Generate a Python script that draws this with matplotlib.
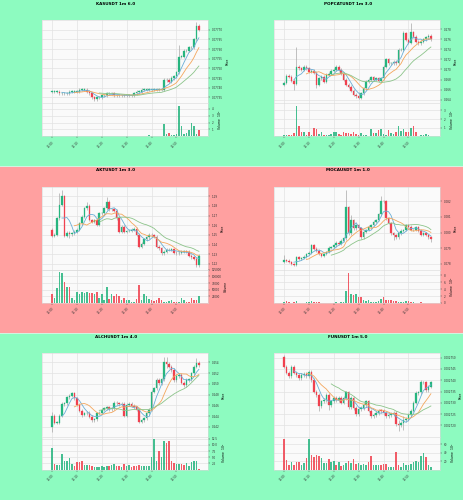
import matplotlib
matplotlib.use("Agg")
import matplotlib.pyplot as plt
import numpy as np
import pandas as pd
from matplotlib.ticker import FixedLocator, FuncFormatter

# ---------------- data ----------------
titles = ["KASUSDT 1m 6.0", "POPCATUSDT 1m 3.0", "AKTUSDT 1m 3.0",
          "MOCAUSDT 1m 1.0", "ALCHUSDT 1m 4.0", "FUNUSDT 1m 5.0"]
time_labels = ["12:00", "12:10", "12:20", "12:30", "12:40", "12:50"]

kas_open0 = 0.07738
kas_close = [0.07738, 0.07738, 0.07738, 0.07737, 0.07737,
             0.07737, 0.07737, 0.07738, 0.07738, 0.07738,
             0.07738, 0.07739, 0.07739, 0.07739, 0.07738,
             0.07737, 0.07735, 0.07734, 0.07735, 0.07735,
             0.07736, 0.07736, 0.07737, 0.07737, 0.07737,
             0.07736, 0.07736, 0.07736, 0.07736, 0.07736,
             0.07736, 0.07736, 0.07736, 0.07737, 0.07738,
             0.07738, 0.07739, 0.07739, 0.07739, 0.07739,
             0.07739, 0.07739, 0.07739, 0.07739, 0.07739,
             0.07744, 0.07744, 0.07743, 0.07745, 0.07746,
             0.07748, 0.07756, 0.07756, 0.07759, 0.07759,
             0.07761, 0.07761, 0.07765, 0.07772, 0.07770]
kas_vol = [0.05, 0.03, 0.04, 0.02, 0.05, 0.03, 0.04, 0.02, 0.03, 0.12,
           0.04, 0.05, 0.03, 0.05, 0.06, 0.08, 0.12, 0.10, 0.06, 0.05,
           0.04, 0.03, 0.05, 0.04, 0.10, 0.06, 0.03, 0.04, 0.03, 0.02,
           0.03, 0.02, 0.03, 0.02, 0.04, 0.05, 0.03, 0.04, 0.06, 0.15,
           0.04, 0.03, 0.05, 0.06, 0.05, 1.80, 0.30, 0.45, 0.25, 0.15,
           0.35, 4.40, 1.50, 0.30, 0.55, 0.90, 1.90, 1.50, 0.40, 0.85]
kas_wicks = {51: (0.07762, 0.07747), 58: (0.07774, 0.07764)}

pop_open0 = 0.26700
pop_close = [0.26742, 0.26874, 0.26861, 0.26782, 0.26716,
             0.27058, 0.27025, 0.26992, 0.27058, 0.27025,
             0.26959, 0.26979, 0.26939, 0.26696, 0.26828,
             0.26861, 0.26762, 0.26893, 0.26913, 0.26979,
             0.26992, 0.27058, 0.26992, 0.26913, 0.26795,
             0.26696, 0.26663, 0.26584, 0.26499, 0.26466,
             0.26446, 0.26532, 0.26630, 0.26762, 0.26795,
             0.26847, 0.26795, 0.26828, 0.26775, 0.26828,
             0.27058, 0.27203, 0.27124, 0.27124, 0.27157,
             0.27124, 0.27387, 0.27387, 0.27716, 0.27584,
             0.27532, 0.27736, 0.27650, 0.27551, 0.27518,
             0.27551, 0.27597, 0.27637, 0.27663, 0.27597]
pop_vol = [0.10, 0.20, 0.15, 0.20, 0.35, 3.50, 1.15, 0.50, 0.45, 0.20,
           0.45, 0.20, 0.95, 0.80, 0.30, 0.50, 0.20, 0.10, 0.15, 0.30,
           0.50, 0.45, 0.25, 0.10, 0.45, 0.35, 0.40, 0.25, 0.45, 0.30,
           0.15, 0.35, 0.10, 0.20, 0.05, 0.80, 0.35, 0.40, 0.70, 0.85,
           0.30, 0.20, 0.75, 0.35, 0.30, 0.55, 1.25, 0.60, 0.90, 0.50,
           0.45, 1.00, 1.20, 0.50, 0.05, 0.15, 0.20, 0.25, 0.20, 0.05]
pop_wicks = {5: (0.27453, 0.26700), 4: (0.26790, 0.26597), 30: (0.26560, 0.26413),
             51: (0.27913, 0.27520), 48: (0.27768, 0.27380), 13: (0.26960, 0.26630)}

akt_open0 = 1.1552
akt_close = [1.1490, 1.1500, 1.1672, 1.1810, 1.1903,
             1.1493, 1.1524, 1.1507, 1.1517, 1.1534,
             1.1552, 1.1621, 1.1690, 1.1776, 1.1803,
             1.1655, 1.1638, 1.1655, 1.1603, 1.1724,
             1.1724, 1.1776, 1.1845, 1.1766, 1.1766,
             1.1752, 1.1672, 1.1534, 1.1586, 1.1534,
             1.1541, 1.1545, 1.1552, 1.1562, 1.1500,
             1.1379, 1.1407, 1.1455, 1.1476, 1.1500,
             1.1497, 1.1483, 1.1379, 1.1362, 1.1310,
             1.1328, 1.1345, 1.1345, 1.1352, 1.1317,
             1.1310, 1.1317, 1.1324, 1.1331, 1.1324,
             1.1283, 1.1269, 1.1255, 1.1186, 1.1283]
akt_vol = [33000, 20000, 55000, 115000, 112000, 80000, 60000, 62000, 20000, 12000,
           40000, 35000, 40000, 38000, 40000, 38000, 38000, 35000, 40000, 18000,
           35000, 10000, 62000, 15000, 35000, 28000, 35000, 25000, 12000, 20000,
           10000, 10000, 5000, 5000, 15000, 66000, 12000, 35000, 28000, 15000,
           10000, 8000, 10000, 20000, 10000, 5000, 3000, 8000, 10000, 5000,
           3000, 3000, 20000, 10000, 3000, 3000, 18000, 12000, 10000, 25000]
akt_wicks = {4: (1.1966, 1.1800), 3: (1.1930, 1.1660), 22: (1.1897, 1.1760),
             14: (1.1845, 1.1770), 7: (1.1530, 1.1466), 58: (1.1270, 1.1170)}

moca_open0 = 0.07815
moca_close = [0.07826, 0.07821, 0.07813, 0.07800, 0.07794,
              0.07843, 0.07834, 0.07838, 0.07847, 0.07862,
              0.07872, 0.07919, 0.07898, 0.07885, 0.07864,
              0.07851, 0.07864, 0.07877, 0.07904, 0.07909,
              0.07919, 0.07936, 0.07928, 0.07949, 0.07964,
              0.08162, 0.07996, 0.08081, 0.08028, 0.08049,
              0.08028, 0.07970, 0.08006, 0.08017, 0.08038,
              0.08049, 0.08070, 0.08081, 0.08117, 0.08202,
              0.08200, 0.08091, 0.08060, 0.07996, 0.07985,
              0.07970, 0.07996, 0.08013, 0.08017, 0.08047,
              0.08038, 0.08017, 0.08017, 0.08034, 0.08013,
              0.07985, 0.07996, 0.07985, 0.07970, 0.07957]
moca_vol = [0.3, 0.5, 0.2, 0.1, 0.2, 0.6, 0.1, 0.1, 0.05, 0.4,
            0.4, 0.5, 0.3, 0.2, 0.3, 0.1, 0.1, 0.05, 0.1, 0.05,
            0.1, 0.2, 0.1, 0.3, 0.4, 3.6, 8.8, 2.7, 2.3, 2.6,
            1.6, 1.6, 0.9, 0.5, 0.8, 0.3, 0.4, 0.3, 0.5, 1.3,
            1.7, 1.0, 0.8, 0.9, 0.6, 0.5, 0.4, 0.3, 0.4, 0.5,
            0.6, 0.3, 0.2, 0.1, 0.1, 0.2, 0.1, 0.1, 0.05, 0.1]
moca_wicks = {25: (0.08272, 0.07960), 39: (0.08234, 0.08110), 0: (0.07860, 0.07810),
              27: (0.08110, 0.07990), 44: (0.07998, 0.07955), 59: (0.07975, 0.07940)}

alch_open0 = 0.24194
alch_close = [0.24404, 0.24280, 0.24280, 0.24404, 0.24627,
              0.24640, 0.24751, 0.24776, 0.24825, 0.24733,
              0.24609, 0.24503, 0.24423, 0.24454, 0.24466,
              0.24392, 0.24318, 0.24342, 0.24454, 0.24466,
              0.24516, 0.24547, 0.24565, 0.24528, 0.24547,
              0.24652, 0.24640, 0.24627, 0.24627, 0.24404,
              0.24609, 0.24627, 0.24590, 0.24565, 0.24516,
              0.24299, 0.24318, 0.24361, 0.24454, 0.24516,
              0.24856, 0.24918, 0.25073, 0.25011, 0.25085,
              0.25414, 0.25370, 0.25321, 0.25259, 0.25073,
              0.25147, 0.25166, 0.25024, 0.24980, 0.25073,
              0.25085, 0.25197, 0.25321, 0.25395, 0.25352]
alch_vol = [8.7, 2.3, 2.0, 2.0, 6.5, 3.4, 3.6, 4.7, 2.4, 1.3,
            3.0, 3.0, 3.4, 1.7, 1.7, 1.7, 1.6, 1.1, 0.9, 1.1,
            1.3, 0.9, 1.3, 1.6, 1.7, 2.3, 1.3, 1.6, 1.1, 2.4,
            1.6, 1.9, 1.1, 1.3, 1.6, 1.9, 1.6, 1.6, 1.5, 1.3,
            5.1, 12.5, 3.4, 7.4, 5.1, 11.4, 10.8, 11.6, 3.4, 2.7,
            2.4, 2.4, 2.3, 2.0, 2.7, 1.3, 3.0, 3.4, 3.4, 0.3]
alch_wicks = {0: (0.24470, 0.24113), 45: (0.25507, 0.25070), 46: (0.25507, 0.25300),
              58: (0.25490, 0.25300), 12: (0.24500, 0.24380), 35: (0.24530, 0.24270)}

fun_open0 = 0.0027504
fun_close = [0.0027460, 0.0027434, 0.0027419, 0.0027460, 0.0027434,
             0.0027424, 0.0027409, 0.0027424, 0.0027428, 0.0027419,
             0.0027438, 0.0027401, 0.0027350, 0.0027335, 0.0027287,
             0.0027306, 0.0027313, 0.0027335, 0.0027291, 0.0027306,
             0.0027321, 0.0027313, 0.0027321, 0.0027301, 0.0027321,
             0.0027346, 0.0027281, 0.0027321, 0.0027276, 0.0027251,
             0.0027272, 0.0027276, 0.0027291, 0.0027306, 0.0027266,
             0.0027240, 0.0027247, 0.0027254, 0.0027266, 0.0027265,
             0.0027254, 0.0027243, 0.0027247, 0.0027251, 0.0027254,
             0.0027207, 0.0027203, 0.0027210, 0.0027222, 0.0027228,
             0.0027247, 0.0027266, 0.0027301, 0.0027343, 0.0027346,
             0.0027390, 0.0027390, 0.0027357, 0.0027372, 0.0027390]
fun_vol = [72, 22, 12, 18, 10, 18, 18, 10, 16, 28,
           72, 34, 30, 35, 32, 28, 16, 16, 26, 18,
           20, 10, 18, 8, 12, 16, 20, 16, 26, 14,
           16, 10, 14, 10, 18, 32, 10, 12, 10, 12,
           14, 14, 6, 6, 6, 42, 10, 6, 16, 10,
           12, 14, 18, 20, 18, 32, 40, 30, 10, 6]
fun_wicks = {0: (0.0027510, 0.0027455), 14: (0.0027310, 0.0027266), 46: (0.0027225, 0.0027174),
             48: (0.0027240, 0.0027180), 55: (0.0027400, 0.0027340), 18: (0.0027320, 0.0027270)}

ma_windows = [5, 10, 20]

# ---------------- style ----------------
BG_GREEN = "#8dfbc0"
BG_RED = "#ffa0a0"
UP = "#26b57f"
DOWN = "#f0414f"
WICK = "#a8a8a8"
MA_COLORS = ["#6aaed6", "#f4a65c", "#8cc48a"]

panels = [
    dict(title=titles[0], o0=kas_open0, c=kas_close, v=kas_vol, w=kas_wicks,
         ylim=(0.07732, 0.07775), ystep=0.00005, yfmt="%.5f", pad=0.000008,
         vexp=6, vlim=4.8, vticks=[1, 2, 3, 4], vfmt="%g"),
    dict(title=titles[1], o0=pop_open0, c=pop_close, v=pop_vol, w=pop_wicks,
         ylim=(0.26334, 0.27979), ystep=0.002, yfmt="%.3f", pad=0.0003,
         vexp=6, vlim=3.85, vticks=[1, 2, 3], vfmt="%g"),
    dict(title=titles[2], o0=akt_open0, c=akt_close, v=akt_vol, w=akt_wicks,
         ylim=(1.1138, 1.2000), ystep=0.01, yfmt="%.2f", pad=0.0015,
         vexp=0, vlim=125000, vticks=[25000, 50000, 75000, 100000, 125000], vfmt="%d"),
    dict(title=titles[3], o0=moca_open0, c=moca_close, v=moca_vol, w=moca_wicks,
         ylim=(0.07762, 0.08294), ystep=0.001, yfmt="%.3f", pad=0.00008,
         vexp=6, vlim=9.6, vticks=[0, 2, 4, 6, 8], vfmt="%g"),
    dict(title=titles[4], o0=alch_open0, c=alch_close, v=alch_vol, w=alch_wicks,
         ylim=(0.24020, 0.25568), ystep=0.002, yfmt="%.3f", pad=0.0003,
         vexp=5, vlim=13.4, vticks=[2.5, 5.0, 7.5, 10.0, 12.5], vfmt="%.1f"),
    dict(title=titles[5], o0=fun_open0, c=fun_close, v=fun_vol, w=fun_wicks,
         ylim=(0.0027151, 0.0027519), ystep=0.000005, yfmt="%.6f", pad=0.0000008,
         vexp=6, vlim=78, vticks=[20, 40, 60], vfmt="%g"),
]
row_bg = [BG_GREEN, BG_RED, BG_GREEN]

fig = plt.figure(figsize=(4.64, 5.0), dpi=100)
fig.patch.set_facecolor(BG_GREEN)

TS = 2.0  # tick font size

for r in range(3):
    pb = 1 - (r + 1) / 3
    fig.patches.append(plt.Rectangle((0, pb), 1, 1 / 3, transform=fig.transFigure,
                                     facecolor=row_bg[r], edgecolor="none", zorder=-10))
    fig.add_artist(plt.Line2D([0, 1], [pb + 0.001, pb + 0.001], transform=fig.transFigure,
                              color="#d6f2e2", linewidth=0.7, zorder=-5))

for k, p in enumerate(panels):
    r, col = divmod(k, 2)
    pl = col * 0.5
    pb = 1 - (r + 1) / 3
    ax = fig.add_axes([pl + 0.181 * 0.5, pb + 0.381 / 3, 0.716 * 0.5, (0.880 - 0.381) / 3])
    axv = fig.add_axes([pl + 0.181 * 0.5, pb + 0.182 / 3, 0.716 * 0.5, (0.381 - 0.182) / 3],
                       sharex=ax)

    close = np.array(p["c"])
    opn = np.concatenate([[p["o0"]], close[:-1]])
    n = len(close)
    x = np.arange(n)
    up = close >= opn
    hi = np.maximum(opn, close) + p["pad"]
    lo = np.minimum(opn, close) - p["pad"]
    for i, (h, l) in p["w"].items():
        hi[i] = max(hi[i], h)
        lo[i] = min(lo[i], l)
    cols = np.where(up, UP, DOWN)

    for a in (ax, axv):
        a.set_facecolor("#fafafa")
        a.grid(True, color="#e2e2e2", linewidth=0.5)
        a.set_axisbelow(True)
        for s in a.spines.values():
            s.set_color("#d8d8d8")
            s.set_linewidth(0.4)
        a.yaxis.tick_right()
        a.yaxis.set_label_position("right")
        a.tick_params(axis="both", labelsize=TS, length=1.5, width=0.3, pad=1.2,
                      colors="#333333")

    ax.vlines(x, lo, hi, color=WICK, linewidth=0.5, zorder=2)
    body = np.abs(close - opn)
    minh = (p["ylim"][1] - p["ylim"][0]) * 0.004
    ax.bar(x, np.maximum(body, minh), bottom=np.minimum(opn, close), width=0.62,
           color=cols, edgecolor=cols, linewidth=0.2, zorder=3)
    s = pd.Series(close)
    for wdw, mc in zip(ma_windows, MA_COLORS):
        ax.plot(x, s.rolling(wdw).mean(), color=mc, linewidth=0.6, zorder=4)

    ax.set_ylim(*p["ylim"])
    yt = np.arange(np.ceil(p["ylim"][0] / p["ystep"] - 1e-6) * p["ystep"], p["ylim"][1], p["ystep"])
    ax.yaxis.set_major_locator(FixedLocator(yt))
    ax.yaxis.set_major_formatter(FuncFormatter(lambda v, pos, f=p["yfmt"]: f % v))
    ax.set_xlim(-4, 62.7)
    ax.xaxis.set_major_locator(FixedLocator([0, 10, 20, 30, 40, 50]))
    plt.setp(ax.get_xticklabels(), visible=False)
    ax.tick_params(axis="x", length=0)
    ax.set_ylabel("Price", fontsize=2.2, labelpad=1.8)

    axv.bar(x, np.array(p["v"]), width=0.62, color=cols, alpha=0.85, zorder=3)
    axv.set_ylim(0, p["vlim"])
    axv.yaxis.set_major_locator(FixedLocator(p["vticks"]))
    axv.yaxis.set_major_formatter(FuncFormatter(lambda v, pos, f=p["vfmt"]: f % v))
    axv.set_xticks([0, 10, 20, 30, 40, 50])
    axv.set_xticklabels(time_labels, rotation=45, ha="right", rotation_mode="anchor",
                        fontsize=TS)
    vlabel = "Volume" if p["vexp"] == 0 else "Volume  $10^{%d}$" % p["vexp"]
    axv.set_ylabel(vlabel, fontsize=2.2, labelpad=1.8)

    fig.text(pl + 0.25, pb + (1 - 3.6 / 167) / 3, p["title"], ha="center", va="center",
             fontsize=3.0, fontweight="bold")

fig.savefig("out.png", dpi=100, facecolor=fig.get_facecolor())
